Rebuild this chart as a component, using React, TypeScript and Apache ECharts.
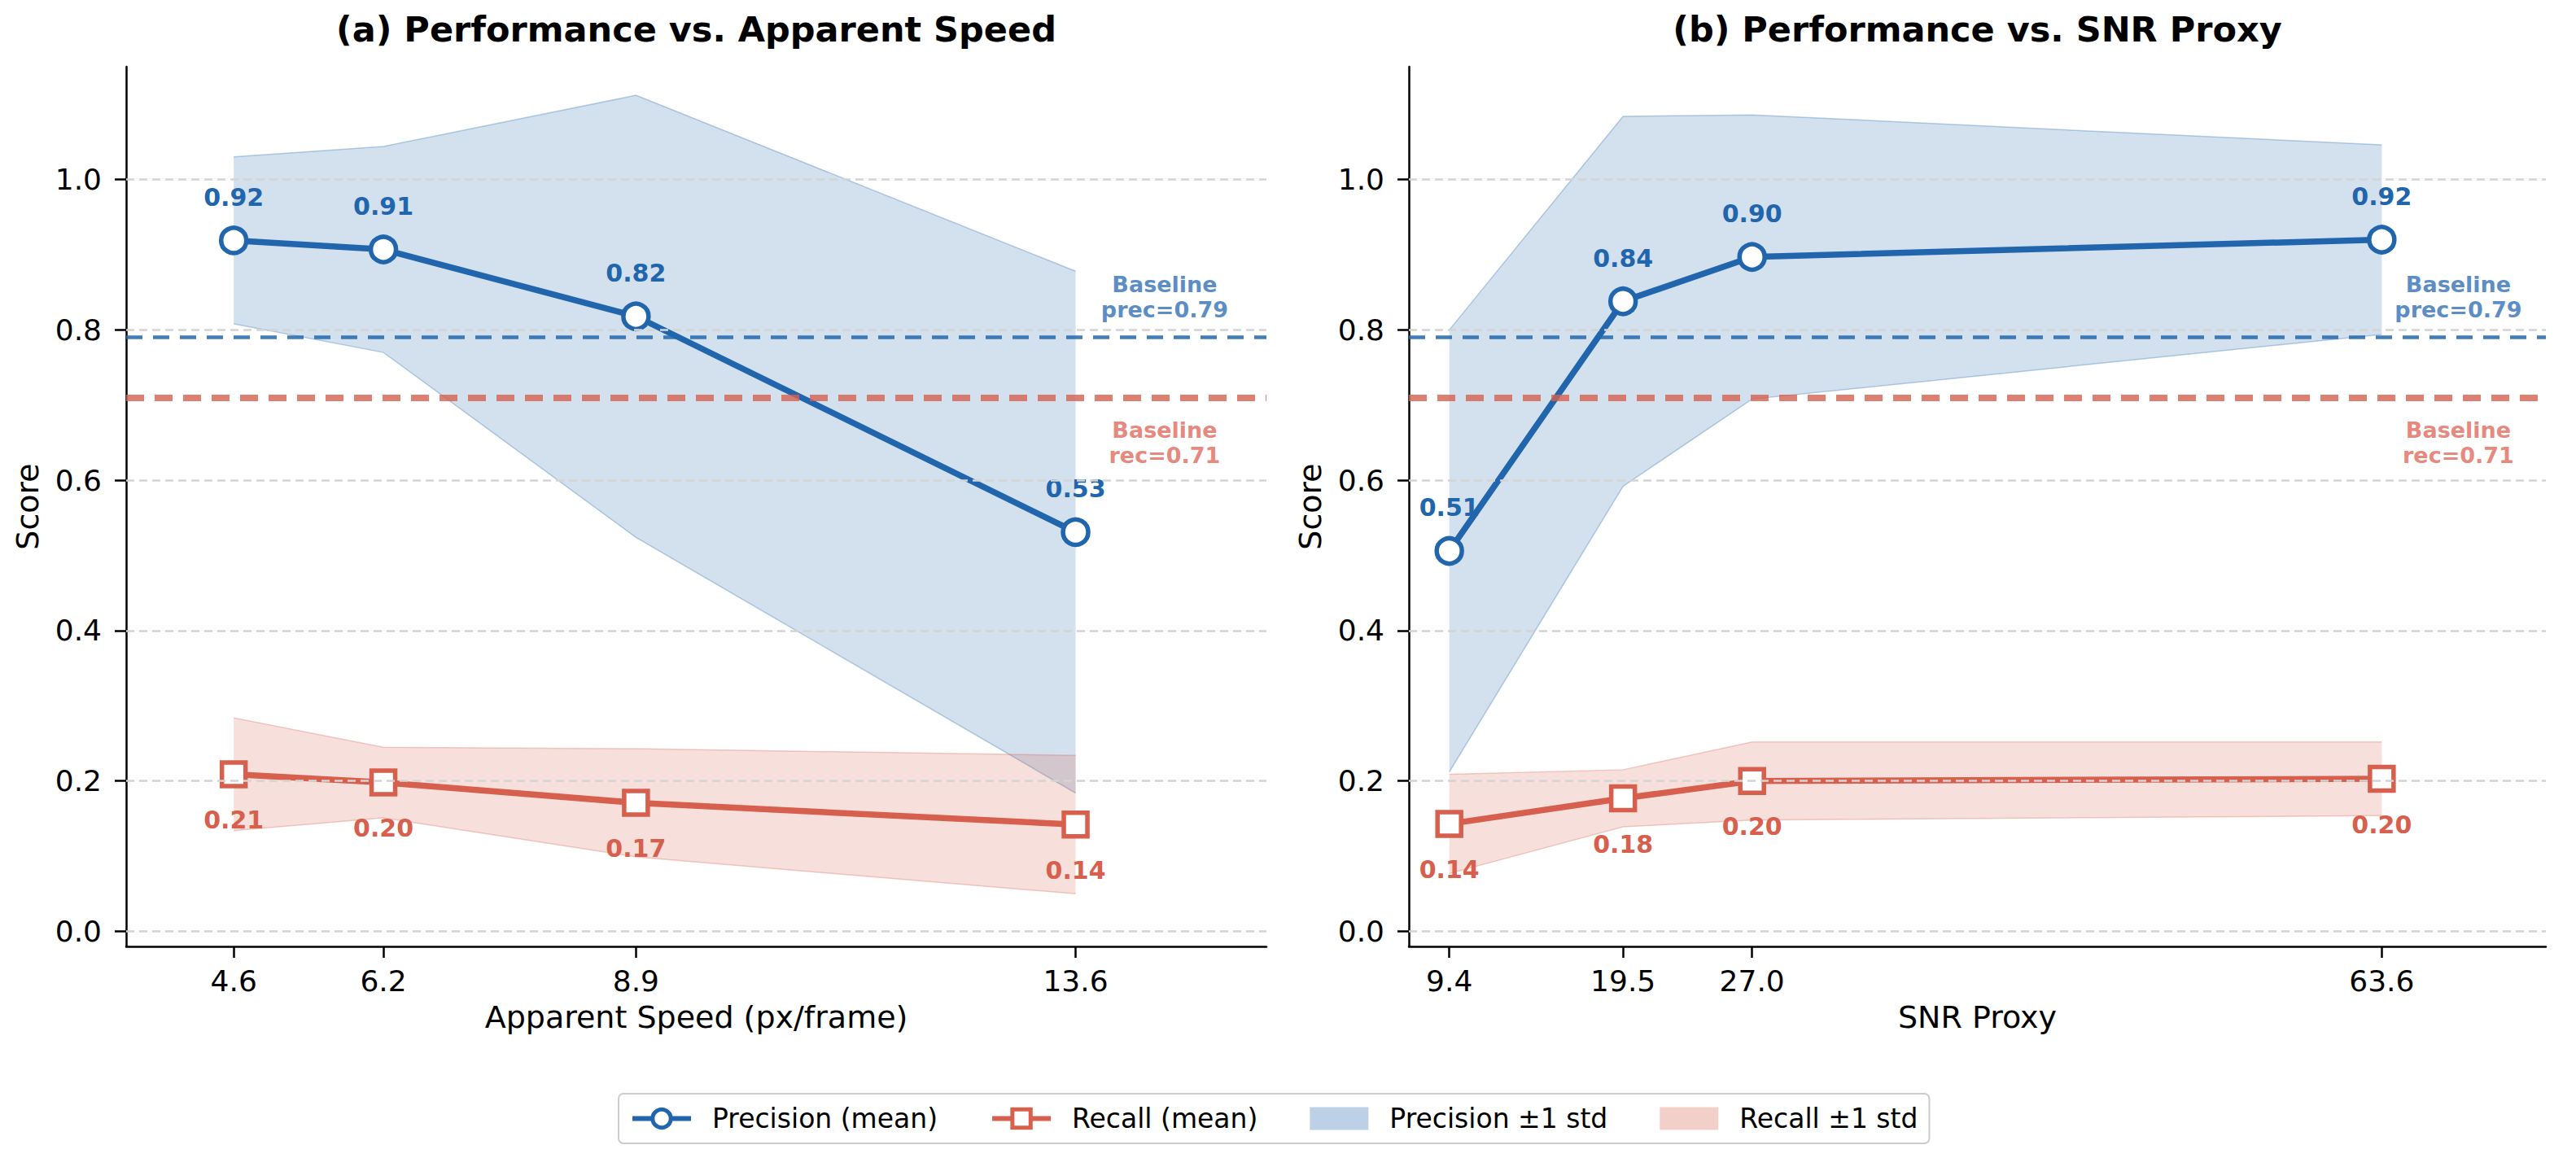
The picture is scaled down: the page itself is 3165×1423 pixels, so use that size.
import React, { useEffect, useRef } from "react";
import * as echarts from "echarts";

// Panel (a): apparent speed
const speedX = [4.6, 6.2, 8.9, 13.6];
const speedPrecMean = [0.919, 0.907, 0.818, 0.531];
const speedPrecStd = [0.111, 0.137, 0.294, 0.347];
const speedRecMean = [0.209, 0.198, 0.171, 0.142];
const speedRecStd = [0.075, 0.047, 0.072, 0.092];

// Panel (b): SNR proxy
const snrX = [9.4, 19.5, 27.0, 63.6];
const snrPrecMean = [0.506, 0.838, 0.897, 0.92];
const snrPrecStd = [0.294, 0.246, 0.189, 0.126];
const snrRecMean = [0.143, 0.177, 0.2, 0.203];
const snrRecStd = [0.066, 0.038, 0.052, 0.049];

const baselinePrec = 0.79;
const baselineRec = 0.71;
const yTicks = [0, 0.2, 0.4, 0.6, 0.8, 1.0];

const titles = ["(a) Performance vs. Apparent Speed", "(b) Performance vs. SNR Proxy"];
const xNames = ["Apparent Speed (px/frame)", "SNR Proxy"];

const BLUE = "#2166ac";
const RED = "#d6604d";
const FONT = "DejaVu Sans";

const GRIDS = [
  { left: 155, top: 82, width: 1401, height: 1081 },
  { left: 1731, top: 82, width: 1397, height: 1081 },
];

// ±1 std band drawn as one polygon through the axis scales
function bandSeries(idx: number, name: string, color: string, xs: number[], mean: number[], std: number[]) {
  const upper = xs.map((x, i) => [x, mean[i] + std[i]]);
  const lower = xs.map((x, i) => [x, mean[i] - std[i]]);
  return {
    type: "custom",
    name,
    xAxisIndex: idx,
    yAxisIndex: idx,
    silent: true,
    z: 1,
    itemStyle: { color },
    data: [upper[0]],
    renderItem: (_params: any, api: any) => {
      const up = upper.map((p) => api.coord(p));
      const lo = lower.map((p) => api.coord(p));
      return {
        type: "group",
        children: [
          {
            type: "polygon",
            shape: { points: [...up, ...lo.slice().reverse()] },
            style: { fill: color, opacity: 0.2 },
          },
          {
            type: "polyline",
            shape: { points: up },
            style: { stroke: color, lineWidth: 1.5, opacity: 0.3, fill: "none" },
          },
          {
            type: "polyline",
            shape: { points: lo },
            style: { stroke: color, lineWidth: 1.5, opacity: 0.3, fill: "none" },
          },
        ],
      };
    },
  };
}

function panelSeries(
  idx: number,
  xs: number[],
  pm: number[],
  ps: number[],
  rm: number[],
  rs: number[]
) {
  const axis = { xAxisIndex: idx, yAxisIndex: idx };
  const xLabel = xs[xs.length - 1] * 1.07;
  return [
    {
      // dashed horizontal grid lines at the y ticks
      type: "line",
      ...axis,
      name: "_grid" + idx,
      data: [],
      silent: true,
      z: 0,
      markLine: {
        silent: true,
        symbol: ["none", "none"],
        label: { show: false },
        lineStyle: { type: [10, 6], color: "#d4d4d4", width: 2.5 },
        data: yTicks.map((v) => ({ yAxis: v })),
      },
    },
    bandSeries(idx, "Precision ±1 std", BLUE, xs, pm, ps),
    bandSeries(idx, "Recall ±1 std", RED, xs, rm, rs),
    {
      type: "line",
      ...axis,
      name: "Precision (mean)",
      data: xs.map((x, i) => [x, pm[i]]),
      symbol: "circle",
      symbolSize: 31,
      itemStyle: { color: "#ffffff", borderColor: BLUE, borderWidth: 5.5 },
      lineStyle: { color: BLUE, width: 7.5 },
      z: 4,
      label: {
        show: true,
        position: "top",
        distance: 20,
        formatter: (p: any) => p.value[1].toFixed(2),
        color: BLUE,
        fontFamily: FONT,
        fontWeight: "bold",
        fontSize: 30,
      },
      markLine: {
        silent: true,
        symbol: ["none", "none"],
        label: { show: false },
        lineStyle: { type: [20, 13], color: BLUE, width: 4.5, opacity: 0.85 },
        data: [{ yAxis: baselinePrec }],
      },
    },
    {
      type: "line",
      ...axis,
      name: "Recall (mean)",
      data: xs.map((x, i) => [x, rm[i]]),
      symbol: "rect",
      symbolSize: 29,
      itemStyle: { color: "#ffffff", borderColor: RED, borderWidth: 5.5 },
      lineStyle: { color: RED, width: 7.5 },
      z: 4,
      label: {
        show: true,
        position: "bottom",
        distance: 24,
        formatter: (p: any) => p.value[1].toFixed(2),
        color: RED,
        fontFamily: FONT,
        fontWeight: "bold",
        fontSize: 30,
      },
      markLine: {
        silent: true,
        symbol: ["none", "none"],
        label: { show: false },
        lineStyle: { type: [22, 13], color: RED, width: 8, opacity: 0.8 },
        data: [{ yAxis: baselineRec }],
      },
    },
    {
      type: "scatter",
      ...axis,
      name: "_baselineText" + idx,
      symbolSize: 1,
      silent: true,
      itemStyle: { color: "rgba(0,0,0,0)" },
      z: 5,
      label: {
        show: true,
        position: "inside",
        fontFamily: FONT,
        fontWeight: "bold",
        fontSize: 27,
        lineHeight: 31,
        align: "center",
        verticalAlign: "middle",
      },
      data: [
        {
          value: [xLabel, baselinePrec + 0.054],
          label: { color: "#2f6fb5", formatter: `Baseline\nprec=${baselinePrec.toFixed(2)}` },
        },
        {
          value: [xLabel, baselineRec - 0.06],
          label: { color: "#e0685a", formatter: `Baseline\nrec=${baselineRec.toFixed(2)}` },
        },
      ],
    },
  ];
}

function xAxisFor(idx: number, xs: number[]) {
  return {
    type: "value",
    gridIndex: idx,
    min: xs[0] * 0.75,
    max: xs[xs.length - 1] * 1.15,
    name: xNames[idx],
    nameLocation: "middle",
    nameGap: 68,
    nameTextStyle: { fontFamily: FONT, fontSize: 38, color: "#000" },
    splitLine: { show: false },
    axisLine: { show: true, onZero: false, lineStyle: { color: "#000", width: 2.5 } },
    axisTick: { show: true, length: 14, customValues: xs, lineStyle: { color: "#000", width: 2.5 } },
    axisLabel: {
      customValues: xs,
      margin: 24,
      formatter: (v: number) => v.toFixed(1),
      fontFamily: FONT,
      fontSize: 36,
      color: "#000",
    },
  };
}

function yAxisFor(idx: number) {
  return {
    type: "value",
    gridIndex: idx,
    min: -0.02,
    max: 1.15,
    name: "Score",
    nameLocation: "middle",
    nameGap: 102,
    nameRotate: 90,
    nameTextStyle: { fontFamily: FONT, fontSize: 38, color: "#000" },
    splitLine: { show: false },
    axisLine: { show: true, lineStyle: { color: "#000", width: 2.5 } },
    axisTick: { show: true, length: 14, customValues: yTicks, lineStyle: { color: "#000", width: 2.5 } },
    axisLabel: {
      customValues: yTicks,
      margin: 30,
      formatter: (v: number) => v.toFixed(1),
      fontFamily: FONT,
      fontSize: 36,
      color: "#000",
    },
  };
}

export default function App() {
  const ref = useRef<HTMLDivElement>(null);

  useEffect(() => {
    document.body.style.margin = "0";
    if (!ref.current) return;
    const chart = echarts.init(ref.current, undefined, { renderer: "svg" });

    const option: any = {
      animation: false,
      backgroundColor: "#ffffff",
      textStyle: { fontFamily: FONT },
      grid: GRIDS.map((g) => ({ ...g, containLabel: false, outerBoundsMode: "none" })),
      xAxis: [xAxisFor(0, speedX), xAxisFor(1, snrX)],
      yAxis: [yAxisFor(0), yAxisFor(1)],
      graphic: titles.map((t, i) => ({
        type: "text",
        x: GRIDS[i].left + GRIDS[i].width / 2,
        y: 36,
        style: {
          text: t,
          textAlign: "center",
          textVerticalAlign: "middle",
          fontFamily: FONT,
          fontWeight: "bold",
          fontSize: 43,
          fill: "#000",
        },
      })),
      legend: {
        left: 760,
        top: 1344,
        orient: "horizontal",
        padding: [14, 14],
        itemGap: 64,
        itemWidth: 72,
        itemHeight: 28,
        borderColor: "#cccccc",
        borderWidth: 2,
        borderRadius: 6,
        backgroundColor: "#ffffff",
        textStyle: { fontFamily: FONT, fontSize: 33, color: "#000", padding: [0, 0, 0, 21] },
        data: [
          {
            name: "Precision (mean)",
            lineStyle: { width: 6, color: BLUE },
            itemStyle: { color: "#ffffff", borderColor: BLUE, borderWidth: 5 },
          },
          {
            name: "Recall (mean)",
            lineStyle: { width: 6, color: RED },
            itemStyle: { color: "#ffffff", borderColor: RED, borderWidth: 5 },
          },
          { name: "Precision ±1 std", icon: "rect", itemStyle: { color: "rgba(33,102,172,0.3)" } },
          { name: "Recall ±1 std", icon: "rect", itemStyle: { color: "rgba(214,96,77,0.3)" } },
        ],
      },
      series: [
        ...panelSeries(0, speedX, speedPrecMean, speedPrecStd, speedRecMean, speedRecStd),
        ...panelSeries(1, snrX, snrPrecMean, snrPrecStd, snrRecMean, snrRecStd),
      ],
    };

    chart.setOption(option);
    return () => chart.dispose();
  }, []);

  return <div ref={ref} style={{ width: 3165, height: 1423 }} />;
}
